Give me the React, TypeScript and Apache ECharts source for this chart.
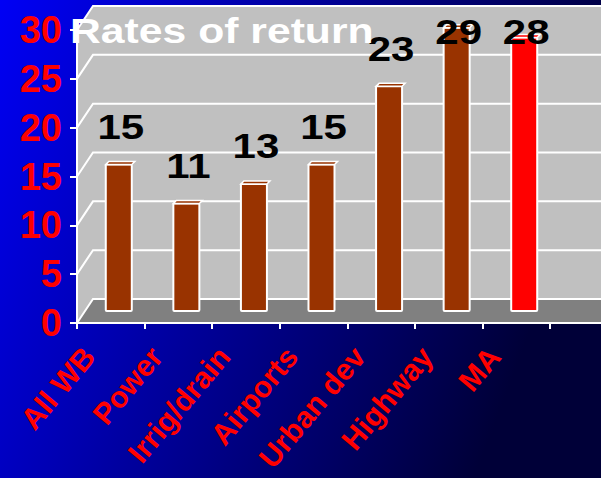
import React, { useEffect, useRef } from "react";
import * as echarts from "echarts";

const categories = ["All WB", "Power", "Irrig/drain", "Airports", "Urban dev", "Highway", "MA"];
const returns = [15, 11, 13, 15, 23, 29, 28];
const highlighted = ["MA"];
const yTicks = [0, 5, 10, 15, 20, 25, 30];
const titleText = "Rates of return";

const DX = 16;
const DY = -24;
const FONT = '"Liberation Sans", Arial, sans-serif';
const BROWN = "#993300";
const RED = "#FF0000";

export default function App() {
  const ref = useRef<HTMLDivElement>(null);

  useEffect(() => {
    const chart = echarts.init(ref.current!, null, { renderer: "svg" });

    const wallRender = (params: any, api: any) => {
      const cs = params.coordSys;
      const W = api.getWidth();
      const x0 = cs.x;
      const x1 = cs.x + cs.width;
      const yTop = cs.y;
      const yBot = cs.y + cs.height;
      const children: any[] = [];
      children.push({
        type: "polygon",
        shape: { points: [[x0, yTop], [x0 + DX, yTop + DY], [x0 + DX, yBot + DY], [x0, yBot]] },
        style: { fill: "#C0C0C0" },
      });
      children.push({
        type: "rect",
        shape: { x: x0 + DX, y: yTop + DY, width: W - x0 - DX + 2, height: yBot - yTop },
        style: { fill: "#C0C0C0" },
      });
      children.push({
        type: "polygon",
        shape: { points: [[x0, yBot], [x0 + DX, yBot + DY], [W + 2, yBot + DY], [W + 2, yBot]] },
        style: { fill: "#808080" },
      });
      yTicks.forEach((v) => {
        const y = api.coord([0, v])[1];
        children.push({
          type: "polyline",
          shape: { points: [[x0, y], [x0 + DX, y + DY], [W + 2, y + DY]] },
          style: { stroke: "#FFFFFF", lineWidth: 2, fill: "none" },
        });
      });
      children.push({
        type: "line",
        shape: { x1: x1, y1: yBot, x2: W + 2, y2: yBot },
        style: { stroke: "#FFFFFF", lineWidth: 2 },
      });
      return { type: "group", children };
    };

    const barRender = (params: any, api: any) => {
      const cs = params.coordSys;
      const idx = api.value(0);
      const v = api.value(1);
      const top = api.coord([idx, v]);
      const base = api.coord([idx, 0]);
      const bw = api.size([1, 0])[0] * 0.385;
      const cx = top[0] + DX / 2;
      const yt = top[1] + DY / 2;
      const yb = base[1] + DY / 2;
      const color = highlighted.includes(categories[idx]) ? RED : BROWN;
      const labelY = Math.max(yt - 38, cs.y + 1.5);
      return {
        type: "group",
        children: [
          {
            type: "rect",
            shape: { x: cx - bw / 2, y: yt, width: bw, height: yb - yt, r: 1 },
            style: { fill: color, stroke: "#FFFFFF", lineWidth: 2 },
          },
          {
            type: "polygon",
            shape: {
              points: [
                [cx - bw / 2, yt],
                [cx - bw / 2 + 3, yt - 3],
                [cx + bw / 2 + 3, yt - 3],
                [cx + bw / 2, yt],
              ],
            },
            style: { fill: color, stroke: "#FFFFFF", lineWidth: 1.5 },
          },
          {
            type: "text",
            x: cx + 2,
            y: labelY,
            scaleX: 1.2,
            z2: 10,
            style: {
              text: String(v),
              fill: "#000000",
              fontSize: 35,
              fontWeight: "bold",
              fontFamily: FONT,
              align: "center",
              verticalAlign: "middle",
            },
          },
        ],
      };
    };

    chart.setOption({
      animation: false,
      backgroundColor: new echarts.graphic.LinearGradient(0, 0, 1, 0.3, [
        { offset: 0, color: "#0000F5" },
        { offset: 1, color: "#000038" },
      ]),
      grid: { left: 77, right: 51, top: 30, bottom: 155, containLabel: false },
      xAxis: {
        type: "category",
        data: categories,
        z: 10,
        axisLine: { show: true, lineStyle: { color: "#FFFFFF", width: 2 } },
        axisTick: { show: true, length: 6, lineStyle: { color: "#FFFFFF", width: 2 } },
        axisLabel: {
          interval: 0,
          rotate: 50,
          margin: 2,
          padding: [0, 34, 0, 0],
          color: RED,
          fontSize: 30,
          fontWeight: "bold",
          fontFamily: FONT,
        },
        splitLine: { show: false },
      },
      yAxis: {
        type: "value",
        min: 0,
        max: 30,
        interval: 5,
        z: 10,
        axisLine: { show: true, lineStyle: { color: "#FFFFFF", width: 2 } },
        axisTick: { show: true, length: 7, lineStyle: { color: "#FFFFFF", width: 2 } },
        axisLabel: {
          margin: 15,
          color: RED,
          fontSize: 38,
          fontWeight: "bold",
          fontFamily: FONT,
        },
        splitLine: { show: false },
      },
      graphic: [
        {
          type: "text",
          x: 70,
          y: 30.5,
          scaleX: 1.22,
          z: 100,
          style: {
            text: titleText,
            fill: "#FFFFFF",
            fontSize: 35,
            fontWeight: "bold",
            fontFamily: FONT,
            align: "left",
            verticalAlign: "middle",
          },
        },
      ],
      series: [
        {
          type: "custom",
          name: "wall",
          silent: true,
          z: 1,
          renderItem: wallRender,
          data: [[0, 0]],
        },
        {
          type: "custom",
          name: "Rates of return",
          z: 5,
          renderItem: barRender,
          data: returns.map((v, i) => [i, v]),
        },
      ],
    });

    return () => {
      chart.dispose();
    };
  }, []);

  return (
    <div
      ref={ref}
      style={{ position: "fixed", left: 0, top: 0, width: 601, height: 478 }}
    />
  );
}
